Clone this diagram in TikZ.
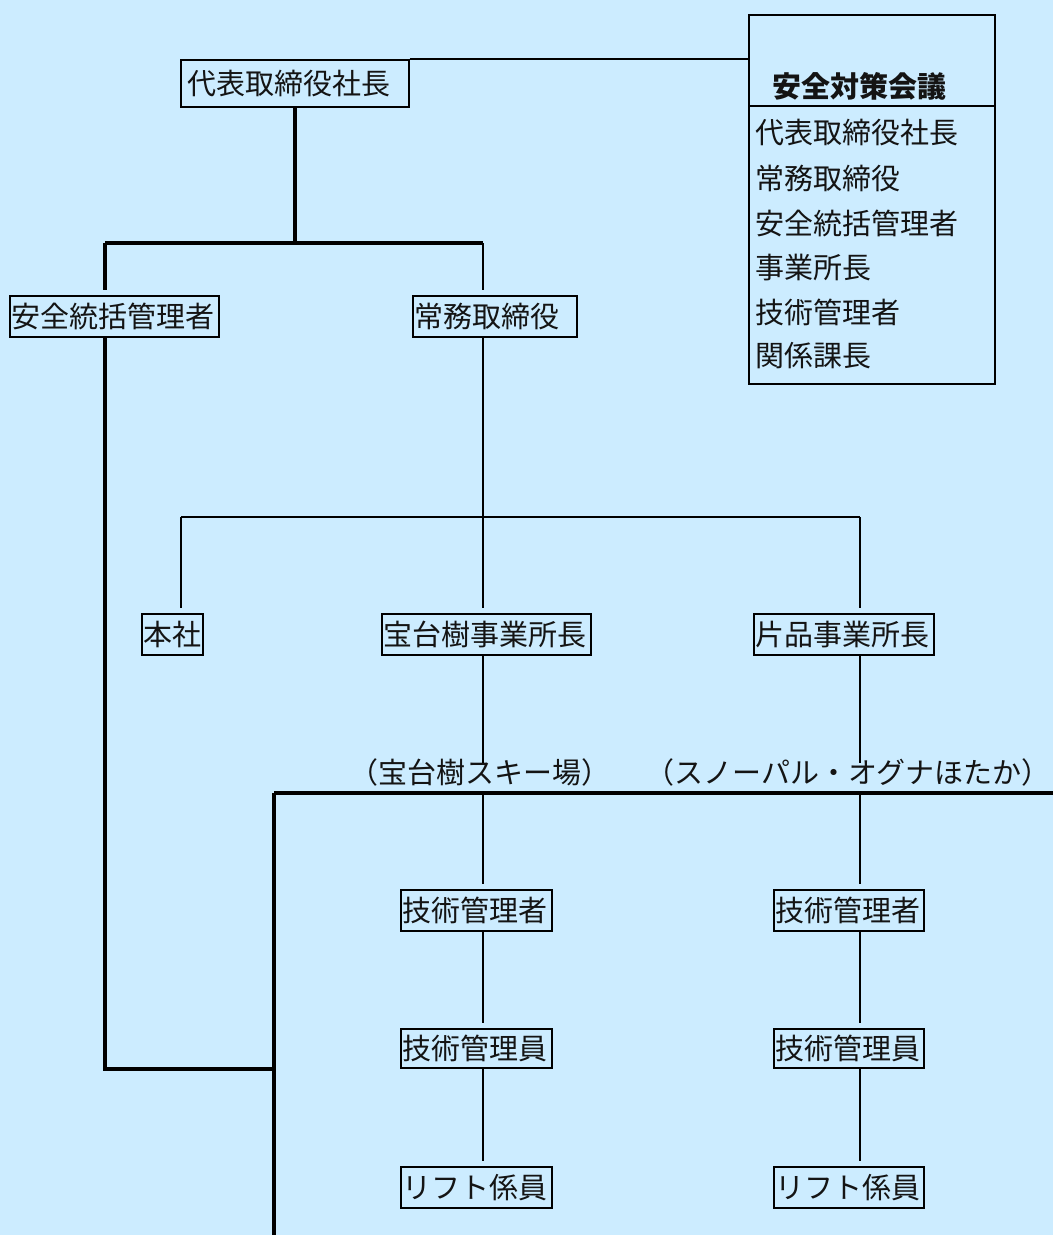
\documentclass[tikz,border=0pt]{standalone}
\usepackage{fontspec}
\setmainfont{Noto Sans CJK JP}
\definecolor{bgblue}{RGB}{204,236,255}
\definecolor{ink}{RGB}{20,20,20}
\tikzset{
  bx/.style={draw, line width=1.5pt, inner xsep=2pt, inner ysep=0pt, anchor=north west,
    align=left, minimum height=41pt, font=\fontsize{29}{30}\selectfont, text=ink},
  thinln/.style={line width=1.5pt},
  thickln/.style={line width=4pt},
  lbl/.style={font=\fontsize{29}{30}\selectfont, text=ink, inner sep=0pt},
  item/.style={font=\fontsize{29}{30}\selectfont, text=ink, inner sep=0pt, anchor=west}
}
\begin{document}
\begin{tikzpicture}[x=1pt,y=-1pt]
\useasboundingbox (0,0) rectangle (1053,1235);
\fill[bgblue] (0,0) rectangle (1053,1235);

% boxes
\node[bx, minimum height=47pt, text width=224pt] (top) at (180,59) {\hspace{5pt}代表取締役社長};
\node[bx, text width=205pt] (anzen) at (9,295) {安全統括管理者};
\node[bx, text width=160pt] (jomu) at (412,295) {常務取締役};
\node[bx, text width=57pt] (honsha) at (141,613) {本社};
\node[bx, text width=205pt] (hodai) at (381,613) {宝台樹事業所長};
\node[bx, text width=176pt] (kata) at (753,613) {片品事業所長};
\node[bx, text width=147pt] (gk1) at (400,889) {技術管理者};
\node[bx, text width=146pt] (gk2) at (773,889) {技術管理者};
\node[bx, minimum height=39pt, text width=147pt] (gi1) at (400,1028) {技術管理員};
\node[bx, minimum height=39pt, text width=146pt] (gi2) at (773,1028) {技術管理員};
\node[bx, text width=147pt] (lf1) at (400,1166) {リフト係員};
\node[bx, text width=146pt] (lf2) at (773,1166) {リフト係員};

% labels
\node[lbl] (site1) at (480,772) {（宝台樹スキー場）};
\node[lbl] (site2) at (848,772) {（スノーパル・オグナほたか）};

% council box
\node[draw, line width=1.5pt, anchor=north west, minimum width=246pt, minimum height=369pt, inner sep=0pt] (council) at (748,14) {};
\coordinate (cdivL) at (748,106);
\coordinate (cdivR) at (994,106);
\draw[thinln] (cdivL) -- (cdivR);
\node[lbl, font=\fontsize{29}{30}\selectfont\bfseries] (ctitle) at (859,86) {安全対策会議};
\node[item] (c1) at (755,133) {代表取締役社長};
\node[item] (c2) at (755,178) {常務取締役};
\node[item] (c3) at (755,223) {安全統括管理者};
\node[item] (c4) at (755,268) {事業所長};
\node[item] (c5) at (755,312) {技術管理者};
\node[item] (c6) at (755,356) {関係課長};

% junction coordinates
\coordinate (xl) at (105,0);
\coordinate (xm) at (483,0);
\coordinate (xr) at (860,0);
\coordinate (xh) at (181,0);
\coordinate (xv) at (274,0);
\coordinate (y1) at (0,243);
\coordinate (y2) at (0,517);
\coordinate (y3) at (0,793);
\coordinate (y4) at (0,1069);
\coordinate (edgeR) at (1053,793);
\coordinate (edgeB) at (274,1235);

% top to council
\draw[thinln] (top.north east) -- (council.west |- top.north);

% president down
\draw[thickln] (top.south) -- (top.south |- y1);
\draw[thickln] (xl |- y1) -- (xm |- y1);
\draw[thickln] (xl |- y1) -- ([yshift=5pt]xl |- anzen.north);
\draw[thinln] (xm |- y1) -- ([yshift=5pt]xm |- jomu.north);

% jomu branches
\draw[thinln] (xm |- jomu.south) -- ([yshift=5pt]xm |- hodai.north);
\draw[thinln] (xh |- y2) -- (xr |- y2);
\draw[thinln] (xh |- y2) -- ([yshift=5pt]xh |- honsha.north);
\draw[thinln] (xr |- y2) -- ([yshift=5pt]xr |- kata.north);

% offices down to labels
\draw[thinln] (xm |- hodai.south) -- ([yshift=-5pt]xm |- site1.north);
\draw[thinln] (xr |- kata.south) -- ([yshift=-5pt]xr |- site2.north);

% thick frame
\draw[thickln] (xv |- y3) -- (edgeR);
\draw[thickln] (xv |- y3) -- (edgeB);
\draw[thickln] (xl |- anzen.south) -- (xl |- y4) -- (xv |- y4);

% columns
\draw[thinln] (xm |- y3) -- ([yshift=5pt]xm |- gk1.north);
\draw[thinln] (xm |- gk1.south) -- ([yshift=5pt]xm |- gi1.north);
\draw[thinln] (xm |- gi1.south) -- ([yshift=5pt]xm |- lf1.north);
\draw[thinln] (xr |- y3) -- ([yshift=5pt]xr |- gk2.north);
\draw[thinln] (xr |- gk2.south) -- ([yshift=5pt]xr |- gi2.north);
\draw[thinln] (xr |- gi2.south) -- ([yshift=5pt]xr |- lf2.north);
\end{tikzpicture}
\end{document}
